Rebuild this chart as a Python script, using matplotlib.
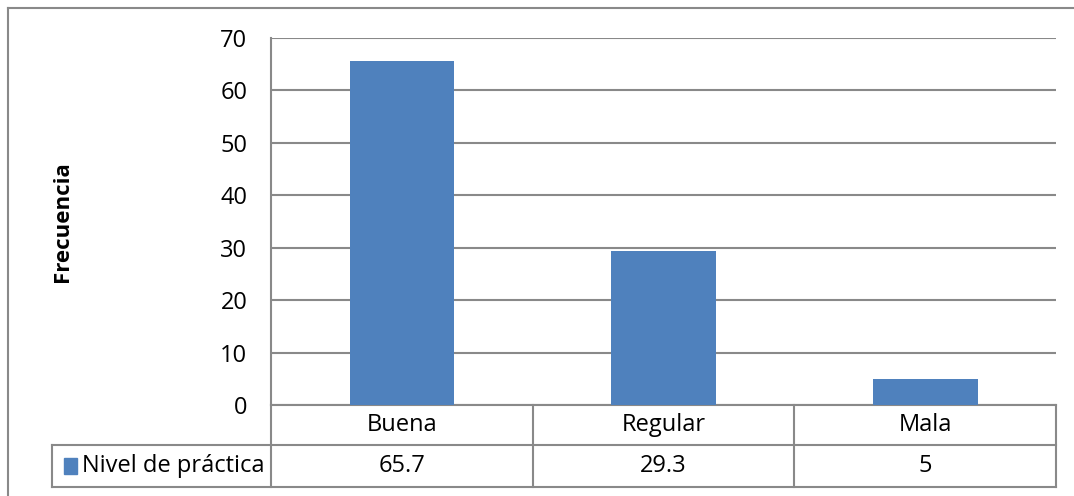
import matplotlib.pyplot as plt
from matplotlib.lines import Line2D
from matplotlib.patches import Rectangle
from matplotlib.transforms import blended_transform_factory

plt.rcParams['font.family'] = ['Open Sans', 'DejaVu Sans']

categorias = ['Buena', 'Regular', 'Mala']
valores = [65.7, 29.3, 5]
etiquetas_valores = ['65.7', '29.3', '5']
serie = 'Nivel de práctica'
yticks = [0, 10, 20, 30, 40, 50, 60, 70]

azul = '#4F81BD'
gris = '#898989'

W, H = 1074, 496
fig = plt.figure(figsize=(W / 100, H / 100), dpi=100)

# borde exterior (sólo se ven arriba e izquierda)
fig.add_artist(Line2D([8 / W, 8 / W], [0, 1 - 8 / H], transform=fig.transFigure,
                      color=gris, lw=1.5))
fig.add_artist(Line2D([8 / W, 1], [1 - 8 / H, 1 - 8 / H], transform=fig.transFigure,
                      color=gris, lw=1.5))

# área de trazado en píxeles
x0, x1, ytop, ybot = 271, 1056, 38, 405
ax = fig.add_axes([x0 / W, 1 - ybot / H, (x1 - x0) / W, (ybot - ytop) / H])

pos = list(range(len(categorias)))
ax.bar(pos, valores, width=0.40, color=azul, zorder=3)
ax.set_xlim(-0.5, len(categorias) - 0.5)
ax.set_ylim(0, 70)
ax.set_yticks(yticks)
ax.tick_params(axis='y', length=0, pad=17, labelsize=17)
ax.set_xticks([])
ax.yaxis.grid(True, color=gris, lw=1.5, zorder=0)
for s in ['top', 'right', 'bottom']:
    ax.spines[s].set_visible(False)
ax.spines['left'].set_color(gris)
ax.spines['left'].set_linewidth(1.5)

fig.text(62 / W, 1 - 222 / H, 'Frecuencia', rotation=90, ha='center', va='center',
         fontsize=16, fontweight='bold')

# tabla de datos bajo el eje
tr = blended_transform_factory(ax.transData, ax.transAxes)
alto = ybot - ytop
r1 = -40 / alto
r2 = -82 / alto
xl = -0.5 - (x0 - 52) / (x1 - x0) * len(categorias)
kw = dict(transform=tr, color=gris, lw=1.5, clip_on=False)

ax.add_line(Line2D([-0.5, -0.5], [0, r2], **kw))
for i in pos:
    ax.add_line(Line2D([i + 0.5, i + 0.5], [0, r2], **kw))
ax.add_line(Line2D([xl, 2.5], [r1, r1], **kw))
ax.add_line(Line2D([xl, 2.5], [r2, r2], **kw))
ax.add_line(Line2D([xl, xl], [r1, r2], **kw))
ax.add_line(Line2D([-0.5, 2.5], [0, 0], **kw))

for i, (c, v) in enumerate(zip(categorias, etiquetas_valores)):
    ax.text(i, r1 / 2, c, transform=tr, ha='center', va='center', fontsize=17)
    ax.text(i, (r1 + r2) / 2, v, transform=tr, ha='center', va='center', fontsize=17)

# clave de la leyenda
ax.add_patch(Rectangle((xl + 0.045, (r1 + r2) / 2 - 0.022), 0.052, 0.044,
                       transform=tr, color=azul, clip_on=False))
ax.text(xl + 0.115, (r1 + r2) / 2, serie, transform=tr, ha='left', va='center',
        fontsize=17)

fig.savefig('out.png', dpi=100)
